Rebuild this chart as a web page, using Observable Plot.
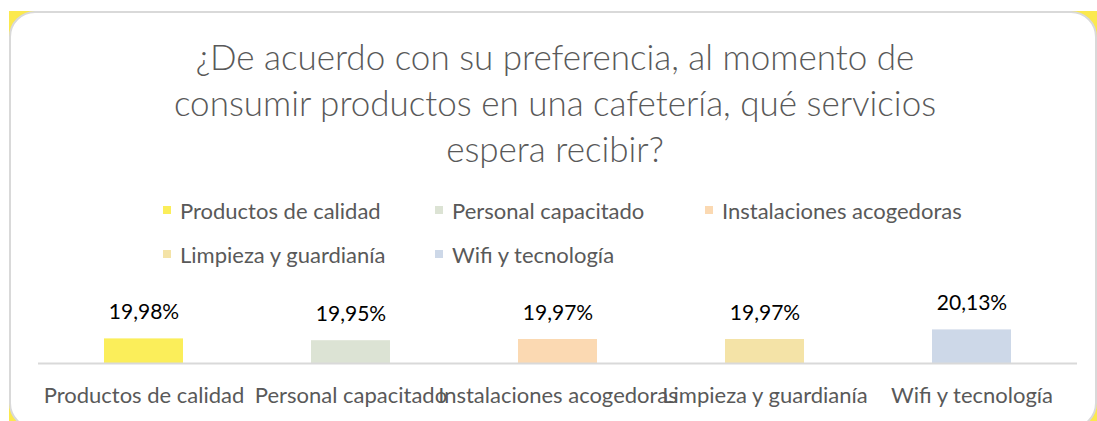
<!DOCTYPE html>
<html>
<head>
<meta charset="utf-8">
<script src="https://cdn.jsdelivr.net/npm/d3@7"></script>
<script src="https://cdn.jsdelivr.net/npm/@observablehq/plot@0.6"></script>
<style>
  html, body { margin: 0; padding: 0; background: #fff; }
  #page { position: relative; width: 1097px; height: 421px; overflow: hidden; font-family: Lato, "Open Sans", sans-serif; }
  #yellowback { position: absolute; left: 9px; top: 11px; width: 1092px; height: 420px; background: #fbe94e; }
  #card { position: absolute; left: 9px; top: 11px; width: 1088px; height: 418px; background: #fff; border: 2px solid #d9d9d9; border-radius: 26px; box-sizing: border-box; }
  #title { position: absolute; left: 0; width: 1110px; top: 33px; text-align: center; color: #595959; font-size: 35px; line-height: 46px; font-weight: 300; }
  #legend { position: absolute; left: 0; top: 0; }
  .li { position: absolute; color: #595959; font-size: 22px; line-height: 26px; white-space: nowrap; }
  .sw { position: absolute; width: 8px; height: 8px; }
  #chart { position: absolute; left: 0; top: 280px; }
</style>
</head>
<body>
<div id="page">
  <div id="yellowback"></div>
  <div id="card"></div>
  <div id="title">¿De acuerdo con su preferencia, al momento de<br>consumir productos en una cafetería, qué servicios<br>espera recibir?</div>
  <div id="legend"></div>
  <div id="chart"></div>
</div>
<script>
const categories = ["Productos de calidad", "Personal capacitado", "Instalaciones acogedoras", "Limpieza y guardianía", "Wifi y tecnología"];
const values = [19.98, 19.95, 19.97, 19.97, 20.13];
const colors = ["#fbee5a", "#dce3d4", "#fbd9b2", "#f4e3a7", "#cdd8e8"];
const yMin = 19.57;

const data = categories.map((c, i) => ({category: c, value: values[i]}));
const fmt = v => v.toFixed(2).replace(".", ",") + "%";

// Legend (HTML)
const legendPos = [[163, 206], [435, 206], [705, 206], [163, 250], [435, 250]];
const legend = document.getElementById("legend");
categories.forEach((c, i) => {
  const [x, y] = legendPos[i];
  const sw = document.createElement("div");
  sw.className = "sw";
  sw.style.left = x + "px";
  sw.style.top = y + "px";
  sw.style.background = colors[i];
  legend.appendChild(sw);
  const t = document.createElement("div");
  t.className = "li";
  t.style.left = (x + 17) + "px";
  t.style.top = (y - 8) + "px";
  t.textContent = c;
  legend.appendChild(t);
});

const H = 141;
const base = 83;
const chart = Plot.plot({
  width: 1097,
  height: H,
  marginLeft: 38,
  marginRight: 20,
  marginTop: 0,
  marginBottom: H - base,
  style: {fontFamily: "Lato, 'Open Sans', sans-serif", background: "transparent", overflow: "visible"},
  x: {domain: categories, paddingInner: 0.62, paddingOuter: 0.31, label: null},
  y: {domain: [yMin, yMin + base / 60], range: [base, 0], axis: null},
  color: {domain: categories, range: colors},
  marks: [
    Plot.rectY(data, {x: "category", y1: () => yMin, y2: "value", fill: "category"}),
    Plot.ruleY([yMin], {stroke: "#d9d9d9", strokeWidth: 2}),
    Plot.text(data, {x: "category", y: "value", text: d => fmt(d.value), dy: -20, lineAnchor: "bottom", fontSize: 21, fill: "#000"}),
    Plot.axisX({tickSize: 0, tickPadding: 24, fontSize: 22, color: "#595959", label: null})
  ]
});
document.getElementById("chart").appendChild(chart);
</script>
</body>
</html>
